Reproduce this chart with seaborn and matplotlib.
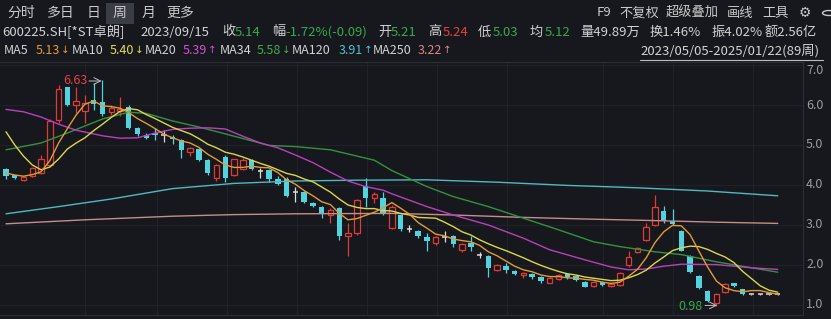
import matplotlib
matplotlib.use("Agg")
import matplotlib.pyplot as plt
from matplotlib.patches import Circle, Rectangle
import seaborn as sns
import numpy as np
import pandas as pd

# ---------------- data (weekly candles, 2023/05/05 - 2025/01/22, 89 weeks) ----------------
opens = [4.40, 4.24, 4.13, 4.22, 4.29, 4.50, 5.62, 6.44, 6.00, 5.85,
         6.12, 6.08, 5.82, 5.85, 5.96, 5.42, 5.25, 5.30, 5.24, 5.21,
         5.12, 4.83, 4.90, 4.62, 4.18, 4.71, 4.25, 4.40, 4.62, 4.36,
         4.37, 4.15, 4.15, 3.82, 3.82, 3.56, 3.46, 3.25, 3.42, 2.72,
         2.80, 3.97, 3.68, 3.67, 2.92, 3.25, 2.91, 2.86, 2.69, 2.55,
         2.70, 2.72, 2.37, 2.54, 2.25, 2.22, 1.88, 1.97, 1.85, 1.76,
         1.77, 1.71, 1.56, 1.65, 1.77, 1.72, 1.58, 1.47, 1.57, 1.47,
         1.50, 2.00, 2.33, 2.62, 3.00, 3.35, 3.11, 2.86, 2.22, 1.72,
         1.35, 1.04, 1.33, 1.54, 1.39, 1.27, 1.27, 1.27, 1.27]
highs = [4.42, 4.26, 4.22, 4.45, 4.75, 5.65, 6.50, 6.45, 6.45, 6.25,
         6.55, 6.63, 6.00, 6.20, 6.00, 5.45, 5.30, 5.43, 5.38, 5.24,
         5.15, 4.95, 4.92, 4.65, 4.52, 4.75, 4.66, 4.68, 4.66, 4.42,
         4.40, 4.22, 4.20, 3.94, 3.85, 3.58, 3.48, 3.42, 3.45, 3.05,
         3.65, 4.17, 3.82, 3.83, 3.50, 3.27, 3.00, 2.88, 2.81, 2.72,
         2.86, 2.74, 2.54, 2.72, 2.33, 2.24, 2.02, 2.05, 1.87, 1.83,
         1.79, 1.73, 1.69, 1.78, 1.80, 1.74, 1.60, 1.60, 1.59, 1.55,
         1.82, 2.36, 2.44, 3.04, 3.75, 3.47, 3.39, 2.88, 2.24, 1.74,
         1.37, 1.29, 1.55, 1.56, 1.40, 1.28, 1.28, 1.28, 1.28]
lows = [4.16, 4.14, 4.10, 4.20, 4.27, 4.45, 5.55, 5.98, 5.80, 5.55,
        5.87, 5.72, 5.75, 5.72, 5.40, 5.22, 5.15, 5.12, 5.08, 5.03,
        4.67, 4.72, 4.60, 4.25, 4.10, 4.08, 4.22, 4.38, 4.38, 4.18,
        4.08, 4.00, 3.70, 3.58, 3.56, 3.46, 3.17, 3.05, 2.62, 2.23,
        2.75, 3.46, 3.55, 3.25, 2.90, 2.86, 2.83, 2.67, 2.36, 2.50,
        2.58, 2.44, 2.33, 2.36, 2.17, 1.71, 1.85, 1.80, 1.75, 1.67,
        1.66, 1.54, 1.54, 1.62, 1.66, 1.60, 1.44, 1.45, 1.47, 1.45,
        1.48, 1.95, 2.30, 2.60, 2.98, 3.05, 3.00, 2.34, 1.80, 1.40,
        1.08, 0.98, 1.30, 1.45, 1.26, 1.26, 1.26, 1.26, 1.26]
closes = [4.22, 4.17, 4.20, 4.42, 4.65, 5.60, 6.40, 6.00, 6.10, 6.05,
          6.02, 5.78, 5.92, 5.90, 5.42, 5.27, 5.18, 5.26, 5.24, 5.14,
          4.88, 4.92, 4.62, 4.29, 4.50, 4.17, 4.64, 4.62, 4.40, 4.36,
          4.15, 4.03, 3.73, 3.82, 3.58, 3.48, 3.28, 3.38, 2.72, 2.80,
          3.62, 3.68, 3.78, 3.28, 3.46, 2.90, 2.91, 2.73, 2.60, 2.70,
          2.70, 2.52, 2.52, 2.46, 2.25, 1.92, 2.00, 1.88, 1.78, 1.81,
          1.69, 1.61, 1.67, 1.75, 1.69, 1.63, 1.46, 1.58, 1.49, 1.53,
          1.79, 2.21, 2.42, 2.94, 3.46, 3.11, 3.02, 2.36, 1.83, 1.42,
          1.11, 1.27, 1.52, 1.47, 1.28, 1.27, 1.27, 1.27, 1.27]

ma5 = [4.30, 4.25, 4.22, 4.26, 4.33, 4.61, 5.05, 5.41, 5.75, 6.02,
       6.10, 5.98, 5.96, 5.92, 5.81, 5.66, 5.54, 5.41, 5.27, 5.18,
       5.10, 5.05, 4.94, 4.77, 4.64, 4.50, 4.44, 4.44, 4.47, 4.44,
       4.43, 4.31, 4.13, 4.02, 3.86, 3.73, 3.58, 3.51, 3.29, 3.13,
       3.16, 3.24, 3.32, 3.43, 3.56, 3.42, 3.27, 3.06, 2.92, 2.77,
       2.73, 2.65, 2.61, 2.58, 2.49, 2.33, 2.23, 2.10, 1.97, 1.88,
       1.83, 1.75, 1.71, 1.71, 1.68, 1.67, 1.64, 1.62, 1.57, 1.54,
       1.57, 1.72, 1.89, 2.18, 2.56, 2.83, 2.99, 2.98, 2.76, 2.35,
       1.95, 1.60, 1.43, 1.36, 1.33, 1.36, 1.36, 1.31, 1.27]
ma10 = [5.33, 5.00, 4.72, 4.50, 4.38, 4.45, 4.65, 4.90, 5.05, 5.18,
        5.36, 5.52, 5.69, 5.84, 5.91, 5.88, 5.76, 5.66, 5.55, 5.44,
        5.36, 5.28, 5.16, 5.02, 4.93, 4.82, 4.77, 4.70, 4.62, 4.54,
        4.47, 4.38, 4.29, 4.24, 4.15, 4.08, 3.95, 3.82, 3.65, 3.50,
        3.44, 3.41, 3.41, 3.36, 3.35, 3.29, 3.25, 3.19, 3.18, 3.17,
        3.07, 2.96, 2.83, 2.75, 2.63, 2.53, 2.44, 2.36, 2.27, 2.18,
        2.08, 1.99, 1.91, 1.84, 1.78, 1.75, 1.70, 1.67, 1.64, 1.61,
        1.62, 1.68, 1.76, 1.87, 2.05, 2.20, 2.36, 2.43, 2.47, 2.46,
        2.39, 2.29, 2.20, 2.06, 1.84, 1.66, 1.48, 1.37, 1.32]
ma20_idx = [0, 2, 4, 6, 8, 11, 13, 15, 17, 19, 21, 23, 25, 27, 29, 31, 33, 35, 37, 39,
            41, 43, 44, 48, 51, 55, 59, 62, 66, 69, 71, 73, 75, 77, 81, 85, 88]
ma20_val = [5.89, 5.83, 5.70, 5.52, 5.37, 5.23, 5.17, 5.18, 5.30, 5.39, 5.42, 5.43, 5.40,
            5.22, 5.05, 4.93, 4.75, 4.56, 4.32, 4.10, 3.96, 3.87, 3.78, 3.46, 3.25, 3.00,
            2.67, 2.38, 2.13, 1.95, 1.88, 1.90, 1.97, 2.02, 2.01, 1.93, 1.89]
ma34_idx = [0, 4, 7, 11, 14, 16, 19, 22, 26, 30, 33, 37, 42, 44, 48, 51, 55, 59, 63, 67,
            70, 74, 77, 81, 88]
ma34_val = [4.88, 5.05, 5.30, 5.65, 5.82, 5.79, 5.60, 5.45, 5.22, 4.99, 4.96, 4.88, 4.62,
            4.36, 3.96, 3.71, 3.46, 3.17, 2.88, 2.58, 2.46, 2.33, 2.26, 2.08, 1.82]
ma120_idx = [0, 6, 12, 19, 26, 33, 40, 48, 56, 64, 72, 80, 88]
ma120_val = [3.28, 3.46, 3.65, 3.91, 4.04, 4.10, 4.12, 4.13, 4.07, 3.99, 3.93, 3.85, 3.73]
ma250_idx = [0, 9, 19, 26, 33, 44, 51, 59, 66, 74, 81, 88]
ma250_val = [3.03, 3.13, 3.22, 3.26, 3.28, 3.29, 3.25, 3.19, 3.15, 3.11, 3.07, 3.04]

y_ticks = [1.0, 2.0, 3.0, 4.0, 5.0, 6.0, 7.0]
tabs = ["分时", "多日", "日", "周", "月", "更多"]
tools = ["F9", "不复权", "超级叠加", "画线", "工具"]
ma_names = ["MA5", "MA10", "MA20", "MA34", "MA120", "MA250"]
ma_last = ["5.13", "5.40", "5.39", "5.58", "3.91", "3.22"]
ma_dir = ["↓", "↓", "↑", "↓", "↑", "↑"]

# ---------------- style ----------------
BG = "#16181d"
UP = "#e23b35"
DOWN = "#52d3dd"
DOJI = "#dcdcdc"
TXT = "#d2d2d2"
GREEN_T = "#35ab4a"
RED_T = "#e4433d"
C5, C10, C20, C34, C120, C250 = "#e39a36", "#dcd64c", "#bb3fbe", "#33933d", "#4fb9c2", "#c98b8b"
LEG_COL = ["#e69b3a", "#e3e04e", "#d24fd4", "#3fae45", "#4fc5cc", "#dc8686"]

sns.set_theme(style="dark", rc={"axes.facecolor": BG, "figure.facecolor": BG})
plt.rcParams["font.family"] = ["Noto Sans CJK SC", "DejaVu Sans"]

W, H = 831, 319
fig = plt.figure(figsize=(W / 100, H / 100), dpi=100)
fig.patch.set_facecolor(BG)

def fx(x):
    return x / W

def fy(y):
    return 1 - y / H

PX0, PX_STEP = 6.0, 8.77
ax = fig.add_axes([0, fy(315), 803 / W, (315 - 62) / H])
ax.set_facecolor(BG)
ax.set_xlim(-PX0 / PX_STEP, (803 - PX0) / PX_STEP)
ax.set_ylim(0.75, 7.075)
ax.set_xticks([])
ax.set_yticks([])
ax.spines["left"].set_visible(False)
for s in ["top", "right", "bottom"]:
    ax.spines[s].set_color("#2b2e35")
    ax.spines[s].set_linewidth(0.8)

# faint grid
for v in y_ticks:
    ax.axhline(v, color="#22252b", lw=0.6, zorder=0)
for xp in [85, 157, 227, 297, 367, 437, 507, 603, 673, 753]:
    ax.axvline((xp - PX0) / PX_STEP, color="#22252b", lw=0.6, zorder=0)

df = pd.DataFrame({"o": opens, "h": highs, "l": lows, "c": closes})
df["i"] = np.arange(len(df))
bw = 0.62
for r in df.itertuples():
    top, bot = max(r.o, r.c), min(r.o, r.c)
    if abs(r.c - r.o) < 0.005:
        ax.vlines(r.i, r.l, r.h, color=DOJI, lw=0.9, zorder=3)
        ax.hlines(r.c, r.i - bw / 2, r.i + bw / 2, color=DOJI, lw=1.1, zorder=3)
    elif r.c > r.o:
        ax.vlines(r.i, top, r.h, color=UP, lw=0.9, zorder=3)
        ax.vlines(r.i, r.l, bot, color=UP, lw=0.9, zorder=3)
        ax.bar(r.i, top - bot, bottom=bot, width=bw, facecolor=BG, edgecolor=UP, lw=0.9, zorder=3)
    else:
        ax.vlines(r.i, r.l, r.h, color=DOWN, lw=0.9, zorder=3)
        ax.bar(r.i, max(top - bot, 0.03), bottom=bot, width=bw, color=DOWN, lw=0, zorder=3)

idx = list(range(len(ma5)))
for xs, ys, col in [(ma250_idx, ma250_val, C250), (ma120_idx, ma120_val, C120),
                    (ma34_idx, ma34_val, C34), (ma20_idx, ma20_val, C20),
                    (idx, ma10, C10), (idx, ma5, C5)]:
    sns.lineplot(x=xs, y=ys, ax=ax, color=col, lw=1.0, estimator=None, sort=False,
                 legend=False, zorder=4)

# high / low markers
hi_i = int(np.argmax(highs))
lo_i = int(np.argmin(lows))
ax.text((63 - PX0) / PX_STEP, 6.60, f"{max(highs):.2f}", color=RED_T, fontsize=9,
        va="center", ha="left", zorder=6)
ax.annotate("", xy=(hi_i - 0.1, 6.60), xytext=((89 - PX0) / PX_STEP, 6.60),
            arrowprops=dict(arrowstyle="->", color="#bfbfbf", lw=0.7, shrinkA=0, shrinkB=0), zorder=6)
ax.text((678 - PX0) / PX_STEP, 0.975, f"{min(lows):.2f}", color=GREEN_T, fontsize=9,
        va="center", ha="left", zorder=6)
ax.annotate("", xy=(lo_i + 0.1, 0.99), xytext=((705 - PX0) / PX_STEP, 0.99),
            arrowprops=dict(arrowstyle="->", color="#bfbfbf", lw=0.7, shrinkA=0, shrinkB=0), zorder=6)

# y axis labels
for v in y_ticks:
    ypx = max(305 - 40 * (v - 1), 71)
    fig.text(fx(806), fy(ypx), f"{v:.1f}", color="#9b9b9b", fontsize=9, va="center", ha="left")

# ---------------- header ----------------
def t(x, y, s, color=TXT, size=9.5, **kw):
    fig.text(fx(x), fy(y), s, color=color, fontsize=size, va="center", ha="left", **kw)

fig.patches.append(Rectangle((fx(106), fy(24)), 28 / W, 21 / H, transform=fig.transFigure,
                             facecolor="#3a3d44", edgecolor="none", zorder=0))
for s, x in zip(tabs, [7, 47, 87, 113, 142, 166]):
    t(x, 13, s, "#c9c9c9", 10)
for s, x in zip(tools, [597, 619, 666, 727, 762]):
    t(x, 13, s, "#c9c9c9", 9.5)
t(799, 13, "⚙", "#c9c9c9", 10)
fig.patches.append(Circle((fx(829), fy(13)), 6.5 / W, transform=fig.transFigure,
                          facecolor="none", edgecolor="#c9c9c9", lw=1.0))

row2 = [("600225.SH[*ST卓朗]", 2, TXT), ("2023/09/15", 140, TXT), ("收", 222, TXT),
        ("5.14", 235, GREEN_T), ("幅", 272, TXT), ("-1.72%(-0.09)", 285, GREEN_T),
        ("开", 378, TXT), ("5.21", 391, GREEN_T), ("高", 428, TXT), ("5.24", 443, RED_T),
        ("低", 478, TXT), ("5.03", 493, GREEN_T), ("均", 530, TXT), ("5.12", 545, GREEN_T),
        ("量49.89万", 580, TXT), ("换1.46%", 650, TXT), ("振4.02%", 712, TXT),
        ("额2.56亿", 765, TXT)]
for s, x, c in row2:
    t(x, 32, s, c, 9.5)

name_x = [4, 72, 145, 220, 292, 373]
val_x = [36, 110, 183, 257, 339, 418]
for nm, vl, dr, col, nx, vx in zip(ma_names, ma_last, ma_dir, LEG_COL, name_x, val_x):
    t(nx, 50, nm, TXT, 9.0)
    t(vx, 50, vl, col, 9.0)
    fig.text(fx(vx + 25), fy(50), dr, color=col, fontsize=7.5, va="center", ha="left",
             family="DejaVu Sans")

t(640, 51, "2023/05/05-2025/01/22(89周)", TXT, 9.5)
fig.add_artist(plt.Line2D([fx(640), fx(823)], [fy(59.5), fy(59.5)], color="#bdbdbd", lw=0.8))

fig.savefig("out.png", dpi=100, facecolor=BG)
